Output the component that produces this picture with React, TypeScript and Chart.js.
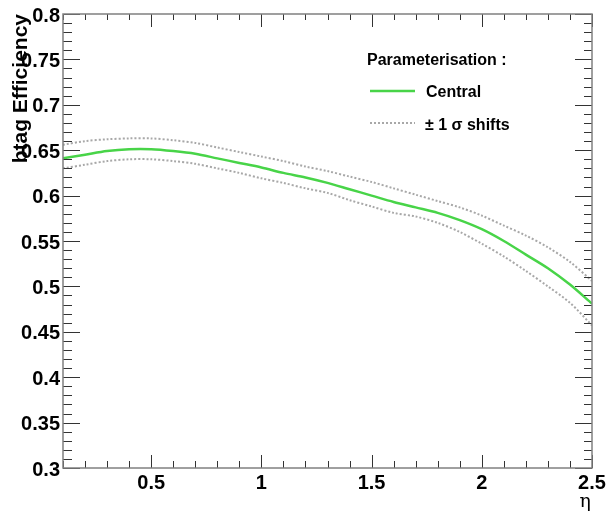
import React, { useEffect, useRef } from "react";
import { Chart, registerables } from "chart.js";

Chart.register(...registerables);

const etaValues = [0.1, 0.2, 0.3, 0.4, 0.5, 0.6, 0.7, 0.8, 0.9, 1.0, 1.1, 1.2, 1.3, 1.4, 1.5, 1.6, 1.7, 1.8, 1.9, 2.0, 2.1, 2.2, 2.3, 2.4, 2.5];
const centralEff = [0.641, 0.645, 0.649, 0.651, 0.651, 0.649, 0.646, 0.641, 0.636, 0.631, 0.625, 0.62, 0.614, 0.607, 0.6, 0.593, 0.587, 0.581, 0.573, 0.563, 0.55, 0.535, 0.52, 0.502, 0.481];
const upperEff = [0.656, 0.66, 0.662, 0.663, 0.663, 0.661, 0.658, 0.653, 0.648, 0.643, 0.638, 0.632, 0.627, 0.621, 0.615, 0.608, 0.601, 0.594, 0.587, 0.578, 0.567, 0.556, 0.543, 0.527, 0.506];
const lowerEff = [0.63, 0.634, 0.638, 0.64, 0.64, 0.638, 0.635, 0.63, 0.625, 0.619, 0.614, 0.608, 0.603, 0.595, 0.588, 0.581, 0.577, 0.57, 0.56, 0.547, 0.533, 0.517, 0.5, 0.482, 0.457];

const yTickValues = [0.3, 0.35, 0.4, 0.45, 0.5, 0.55, 0.6, 0.65, 0.7, 0.75, 0.8];
const yTickLabels = ["0.3", "0.35", "0.4", "0.45", "0.5", "0.55", "0.6", "0.65", "0.7", "0.75", "0.8"];
const xTickValues = [0.5, 1, 1.5, 2, 2.5];
const xTickLabels = ["0.5", "1", "1.5", "2", "2.5"];

const yTitle = "btag Efficiency";
const xTitle = "η";
const legendTitle = "Parameterisation :";
const legendCentral = "Central";
const legendShifts = "± 1 σ shifts";

const GREEN = "#48d448";
const GREY = "#a8a8a8";
const FONT = "'Liberation Sans', Arial, Helvetica, sans-serif";

const axesPlugin = {
  id: "rootAxes",
  afterDraw(chart: any) {
    const { ctx, chartArea: a, scales } = chart;
    const xs = scales.x;
    const ys = scales.y;
    ctx.save();
    // ticks
    ctx.strokeStyle = "#333";
    ctx.lineWidth = 1;
    for (let i = 30; i <= 80; i++) {
      const v = i / 100;
      const py = Math.round(ys.getPixelForValue(v)) + 0.5;
      const major = i % 5 === 0;
      const lenL = major ? 17 : 9;
      const lenR = major ? 17 : 8;
      ctx.beginPath();
      ctx.moveTo(a.left, py);
      ctx.lineTo(a.left + lenL, py);
      ctx.moveTo(a.right, py);
      ctx.lineTo(a.right - lenR, py);
      ctx.stroke();
    }
    for (let i = 1; i <= 25; i++) {
      const v = i / 10;
      const px = Math.round(xs.getPixelForValue(v)) + 0.5;
      const major = i % 5 === 0;
      const lenB = major ? 13 : 7;
      const lenT = major ? 13 : 6;
      ctx.beginPath();
      ctx.moveTo(px, a.bottom);
      ctx.lineTo(px, a.bottom - lenB);
      ctx.moveTo(px, a.top);
      ctx.lineTo(px, a.top + lenT);
      ctx.stroke();
    }
    // frame
    ctx.strokeStyle = "#808080";
    ctx.lineWidth = 1.5;
    ctx.strokeRect(a.left, a.top, a.right - a.left, a.bottom - a.top);

    // tick labels
    ctx.fillStyle = "#000";
    ctx.font = `bold 20px ${FONT}`;
    ctx.textAlign = "right";
    ctx.textBaseline = "alphabetic";
    yTickValues.forEach((v, i) => {
      ctx.fillText(yTickLabels[i], a.left - 3, ys.getPixelForValue(v) + 7.5);
    });
    ctx.textAlign = "center";
    xTickValues.forEach((v, i) => {
      ctx.fillText(xTickLabels[i], xs.getPixelForValue(v), a.bottom + 21);
    });

    // axis titles
    ctx.save();
    ctx.translate(27, a.top);
    ctx.rotate(-Math.PI / 2);
    ctx.textAlign = "right";
    ctx.textBaseline = "alphabetic";
    ctx.font = `bold 21px ${FONT}`;
    ctx.fillText(yTitle, 0, 0);
    ctx.restore();

    ctx.font = `19px 'DejaVu Serif', serif`;
    ctx.textAlign = "right";
    ctx.textBaseline = "alphabetic";
    ctx.fillText(xTitle, a.right - 1, 507);

    // legend
    ctx.font = `bold 16px ${FONT}`;
    ctx.textAlign = "left";
    ctx.textBaseline = "alphabetic";
    ctx.fillText(legendTitle, 367, 65);
    ctx.fillText(legendCentral, 426, 97);
    ctx.fillText(legendShifts, 425, 130);

    ctx.strokeStyle = GREEN;
    ctx.lineWidth = 2.5;
    ctx.setLineDash([]);
    ctx.beginPath();
    ctx.moveTo(370, 91);
    ctx.lineTo(415, 91);
    ctx.stroke();

    ctx.strokeStyle = GREY;
    ctx.lineWidth = 2;
    ctx.setLineDash([2, 2]);
    ctx.beginPath();
    ctx.moveTo(370, 123);
    ctx.lineTo(415, 123);
    ctx.stroke();
    ctx.restore();
  },
};

export default function App() {
  const ref = useRef<HTMLCanvasElement | null>(null);
  useEffect(() => {
    if (!ref.current) return;
    const toPts = (arr: number[]) => etaValues.map((x, i) => ({ x, y: arr[i] }));
    const chart = new Chart(ref.current, {
      type: "line",
      data: {
        datasets: [
          {
            label: "+1 sigma",
            data: toPts(upperEff),
            borderColor: GREY,
            borderWidth: 2,
            borderDash: [2, 2],
            pointRadius: 0,
            tension: 0.3,
            fill: false,
          },
          {
            label: "-1 sigma",
            data: toPts(lowerEff),
            borderColor: GREY,
            borderWidth: 2,
            borderDash: [2, 2],
            pointRadius: 0,
            tension: 0.3,
            fill: false,
          },
          {
            label: "Central",
            data: toPts(centralEff),
            borderColor: GREEN,
            borderWidth: 2.5,
            pointRadius: 0,
            tension: 0.3,
            fill: false,
          },
        ],
      },
      options: {
        responsive: false,
        animation: false,
        devicePixelRatio: 1,
        layout: { padding: { left: 63, right: 15, top: 14, bottom: 46 } },
        plugins: { legend: { display: false }, tooltip: { enabled: false } },
        scales: {
          x: { type: "linear", min: 0.1, max: 2.5, display: false },
          y: { type: "linear", min: 0.3, max: 0.8, display: false },
        },
      },
      plugins: [axesPlugin],
    });
    return () => chart.destroy();
  }, []);
  return (
    <div style={{ position: "absolute", left: 0, top: 0, width: 607, height: 514, background: "#fff" }}>
      <canvas ref={ref} width={607} height={514} />
    </div>
  );
}
